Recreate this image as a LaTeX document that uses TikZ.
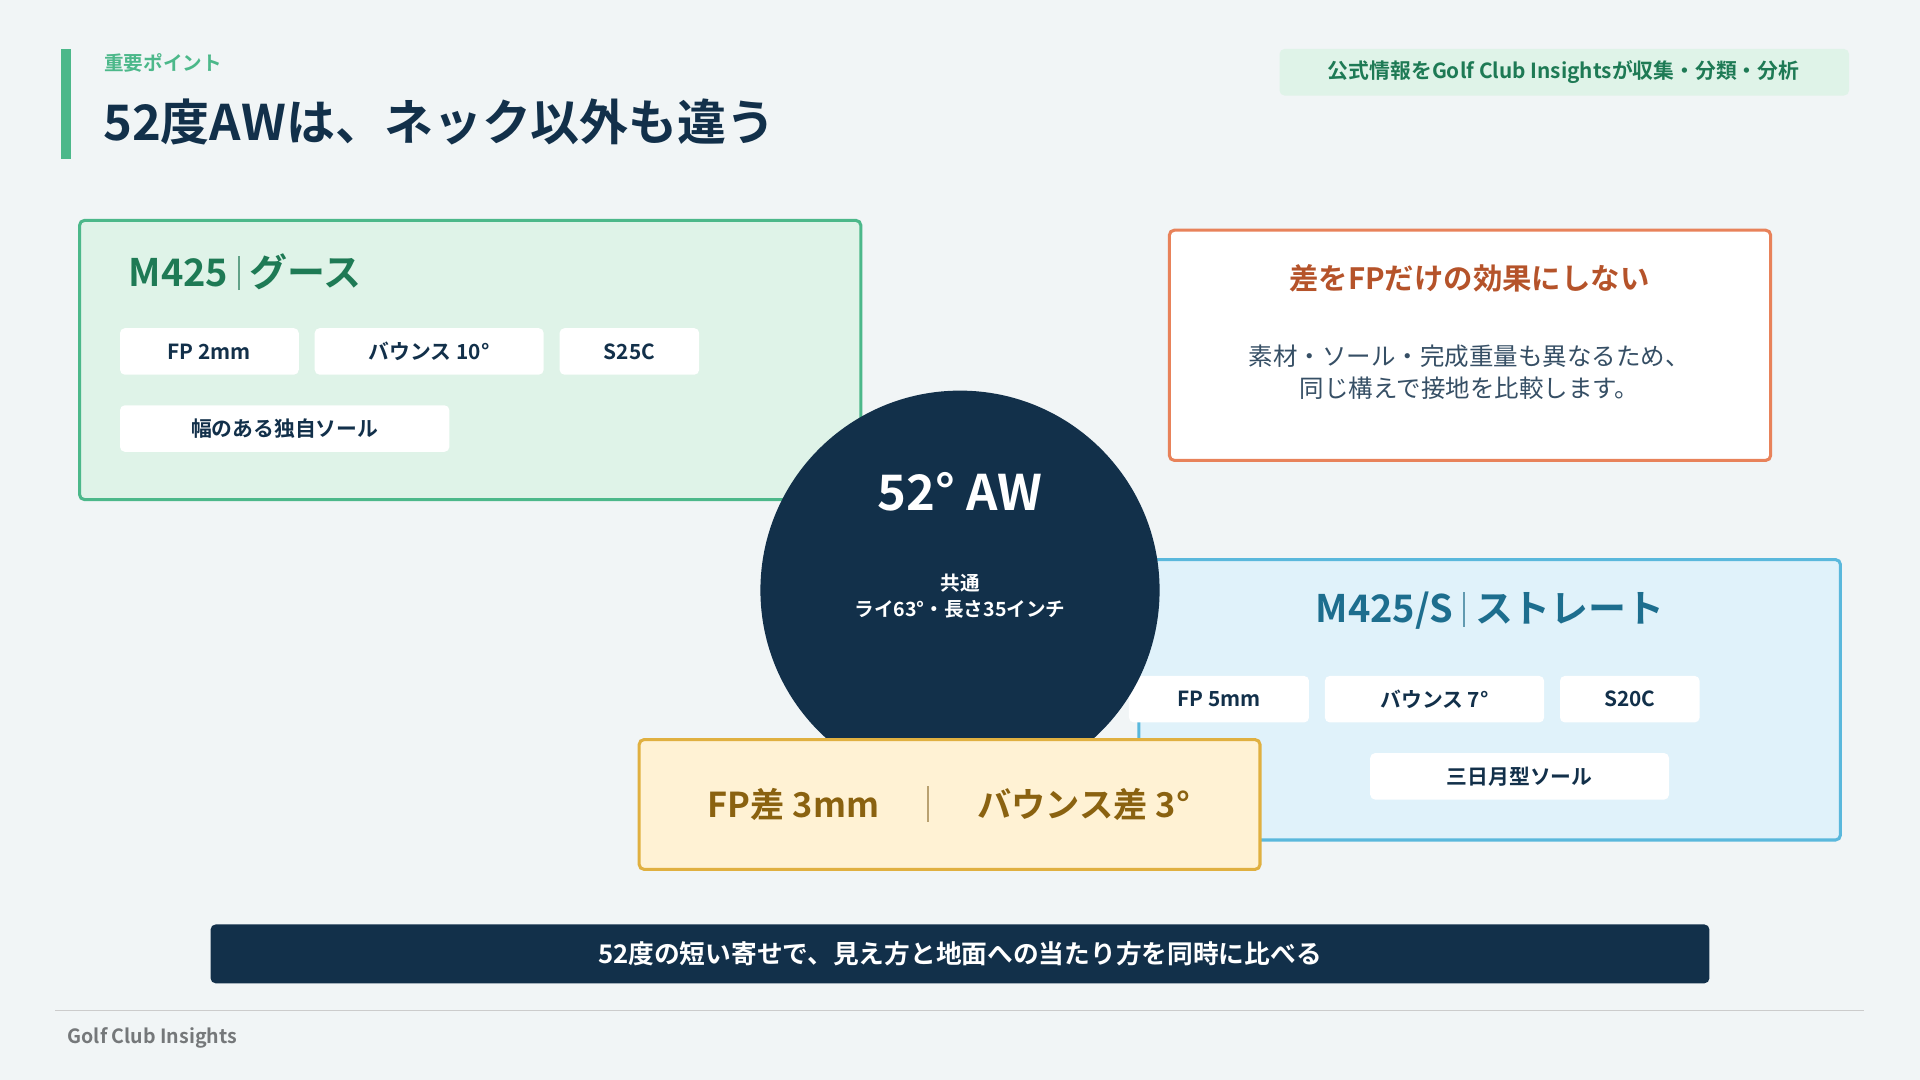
\documentclass[tikz,border=0pt]{standalone}
\usepackage{fontspec}
\setmainfont{Noto Sans CJK JP}[BoldFont={Noto Sans CJK JP Bold}]
\usepackage{tikz}
\usetikzlibrary{positioning}
\definecolor{navy}{HTML}{12304A}
\definecolor{bg}{HTML}{F1F5F6}
\definecolor{gmid}{HTML}{4CB88A}
\definecolor{gdark}{HTML}{1E7A55}
\definecolor{gfill}{HTML}{DFF3E8}
\definecolor{omid}{HTML}{E8825A}
\definecolor{odark}{HTML}{B5532A}
\definecolor{bmid}{HTML}{5AB8DC}
\definecolor{bdark}{HTML}{1D6E8E}
\definecolor{bfill}{HTML}{E0F2FA}
\definecolor{ymid}{HTML}{E0B040}
\definecolor{yfill}{HTML}{FFF2D4}
\definecolor{ydark}{HTML}{8A6210}
\newcommand{\fs}[1]{\fontsize{#1}{\numexpr#1*13/10\relax}\selectfont}
\newcommand{\namesep}[1]{\hspace{8pt}{\color{#1!70}\rule[-3pt]{1.5pt}{28pt}}\hspace{8pt}}
\tikzset{
    panel/.style={draw=#1, line width=2.5pt, rounded corners=4pt},
    label/.style={anchor=center, inner sep=0pt}
}
\begin{document}
\begin{tikzpicture}[x=1pt,y=-1pt]
    \useasboundingbox (0,0) rectangle (1568,882);
    \fill[bg] (0,0) rectangle (1568,882);

    % header
    \fill[gmid] (50,40) rectangle (58,130);
    \node[anchor=west, inner sep=0pt, text=gmid, font=\bfseries\fs{16}] (kicker) at (85,51) {重要ポイント};
    \node[anchor=west, inner sep=0pt, text=navy, font=\bfseries\fs{40}] (title) at (84,100) {52度AWは、ネック以外も違う};
    \fill[gfill, rounded corners=4pt] (1045,40) rectangle (1510,78);
    \node[label, text=gdark, font=\bfseries\fs{17}] (source) at (1277,59) {公式情報をGolf Club Insightsが収集・分類・分析};

    % green panel
    \filldraw[panel=gmid, fill=gfill] (65,180) rectangle (703,408);
    \node[anchor=west, inner sep=0pt, text=gdark, font=\bfseries\fs{31}] (gname) at (105,222) {M425\namesep{gdark}グース};
    \foreach \x/\y/\w/\t in {98/268/146/FP 2mm, 257/268/187/バウンス 10°, 457/268/114/S25C, 98/331/269/幅のある独自ソール}
    {
        \fill[white, rounded corners=4pt] (\x,\y) rectangle ++(\w,38);
        \node[label, text=navy, font=\bfseries\fs{17}] at (\x+\w/2,\y+19) {\t};
    }

    % orange panel
    \filldraw[panel=omid, fill=white] (955,188) rectangle (1446,376);
    \node[label, text=odark, font=\bfseries\fs{24}] (otitle) at (1200,227) {差をFPだけの効果にしない};
    \node[label, text=navy!85, font=\fs{20}, align=center] (obody) at (1200,304) {素材・ソール・完成重量も異なるため、\\同じ構えで接地を比較します。};

    % blue panel
    \filldraw[panel=bmid, fill=bfill] (930,457) rectangle (1503,686);
    \node[label, text=bdark, font=\bfseries\fs{31}] (bname) at (1217,499) {M425/S\namesep{bdark}ストレート};
    \foreach \x/\y/\w/\t in {922/552/147/FP 5mm, 1082/552/179/バウンス 7°, 1274/552/114/S20C, 1119/615/244/三日月型ソール}
    {
        \fill[white, rounded corners=4pt] (\x,\y) rectangle ++(\w,38);
        \node[label, text=navy, font=\bfseries\fs{17}] at (\x+\w/2,\y+19) {\t};
    }

    % center circle
    \fill[navy] (784,482) circle (163);
    \node[label, text=white, font=\bfseries\fs{40}] (aw) at (784,402) {52° AW};
    \node[label, text=white, font=\bfseries\fs{16}, align=center] (common) at (784,487) {共通\\ライ63°・長さ35インチ};

    % difference box
    \filldraw[panel=ymid, fill=yfill] (522,604) rectangle (1029,710);
    \node[label, text=ydark, font=\bfseries\fs{28}] (fpdiff) at (648,657) {FP差 3mm};
    \draw[ydark!60, line width=1.5pt] (758,642) -- (758,671);
    \node[label, text=ydark, font=\bfseries\fs{28}] (bdiff) at (885,657) {バウンス差 3°};

    % bottom bar
    \fill[navy, rounded corners=4pt] (172,755) rectangle (1396,803);
    \node[label, text=white, font=\bfseries\fs{21}] (msg) at (784,779) {52度の短い寄せで、見え方と地面への当たり方を同時に比べる};

    % footer
    \draw[gray!40, line width=1pt] (45,825) -- (1522,825);
    \node[anchor=west, inner sep=0pt, text=gray!90!navy, font=\bfseries\fs{16}] (brand) at (55,848) {Golf Club Insights};
\end{tikzpicture}
\end{document}
